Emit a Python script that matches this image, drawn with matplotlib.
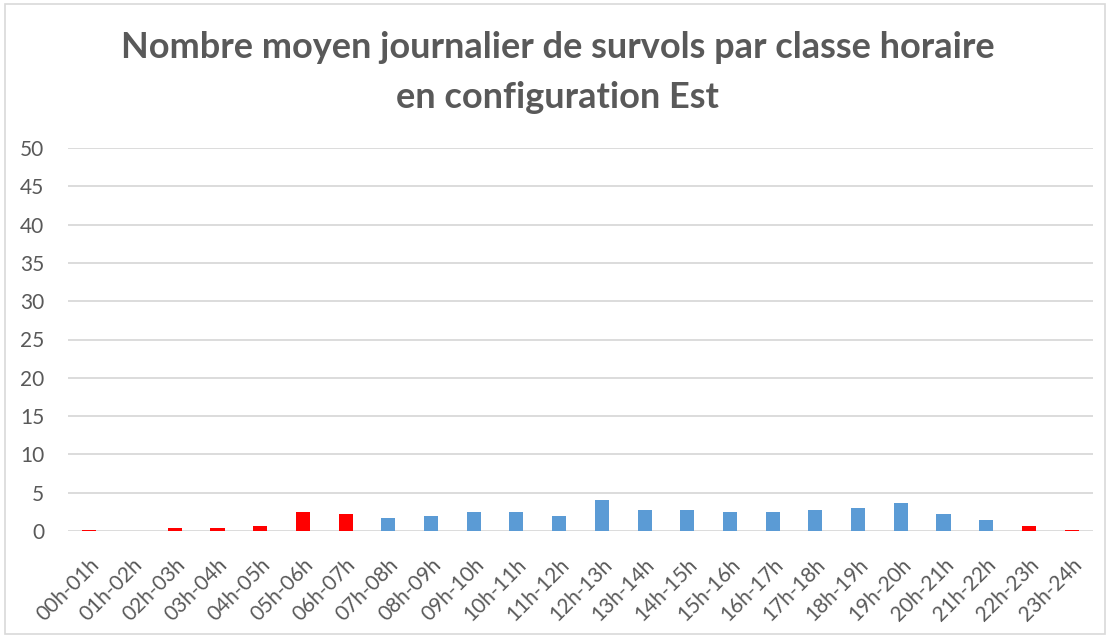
import numpy as np
import matplotlib
matplotlib.use("Agg")
import matplotlib.pyplot as plt
from matplotlib.patches import Rectangle

# hourly classes
hours = [f"{h:02d}h-{h + 1:02d}h" for h in range(24)]
values = [0.1, 0.0, 0.4, 0.4, 0.65, 2.5, 2.2, 1.7, 1.95, 2.5, 2.5, 1.95,
          4.1, 2.8, 2.8, 2.5, 2.5, 2.8, 3.05, 3.6, 2.25, 1.45, 0.7, 0.1]
night = [True] * 7 + [False] * 15 + [True] * 2

plt.rcParams['font.family'] = ['Lato', 'DejaVu Sans']
grey = '#595959'

fig = plt.figure(figsize=(11.08, 6.36), dpi=100)
ax = fig.add_axes([68 / 1108, 1 - 531 / 636, (1093 - 68) / 1108, (531 - 148) / 636])

colors = ['#FF0000' if n else '#5B9BD5' for n in night]
x = np.arange(len(hours))
ax.bar(x, values, width=0.33, color=colors, zorder=3)

ax.set_xlim(-0.5, len(hours) - 0.5)
ax.set_ylim(0, 50)
ax.set_yticks(np.arange(0, 51, 5))
ax.grid(axis='y', color='#D9D9D9', lw=1.3, zorder=0)
for s in ax.spines.values():
    s.set_visible(False)
ax.tick_params(axis='both', length=0, labelsize=15, colors=grey)
ax.tick_params(axis='y', pad=17)
ax.set_xticks(x)
ax.set_xticklabels(hours, rotation=45, ha='right', va='top', rotation_mode='anchor')
ax.tick_params(axis='x', pad=17)

fig.text(0.503, 1 - 47 / 636, "Nombre moyen journalier de survols par classe horaire",
         ha='center', va='center', fontsize=26, fontweight='bold', color=grey)
fig.text(0.503, 1 - 97 / 636, "en configuration Est",
         ha='center', va='center', fontsize=26, fontweight='bold', color=grey)

# chart border
fig.patches.append(Rectangle((5 / 1108, 2 / 636), 1 - 8 / 1108, 1 - 6 / 636,
                             transform=fig.transFigure, fill=False,
                             edgecolor='#D9D9D9', lw=1.2))

fig.savefig("out.png", dpi=100)
